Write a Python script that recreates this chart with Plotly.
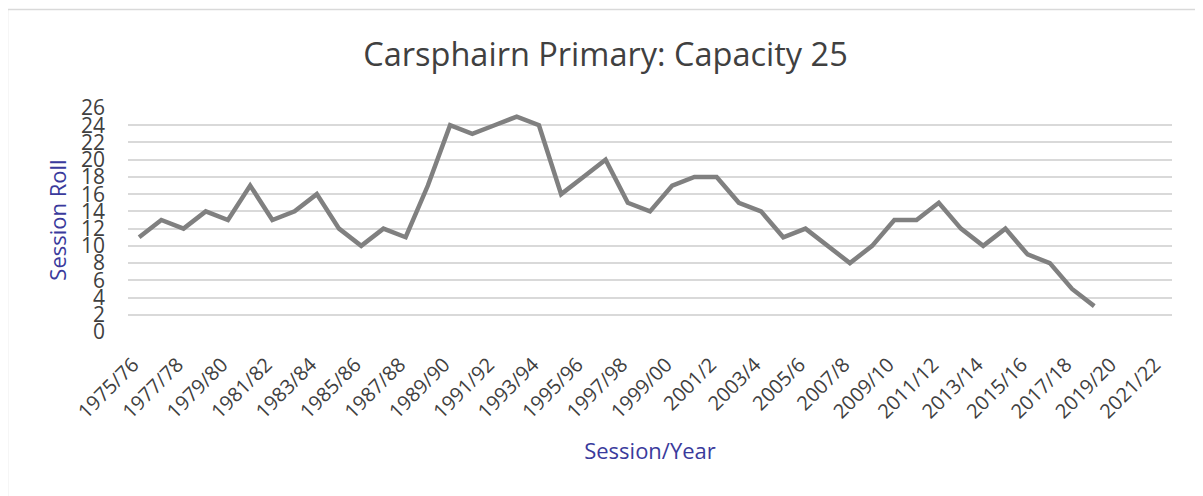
import plotly.graph_objects as go

categories = [
    "1975/76", "1976/77", "1977/78", "1978/79", "1979/80", "1980/81", "1981/82", "1982/83",
    "1983/84", "1984/85", "1985/86", "1986/87", "1987/88", "1988/89", "1989/90", "1990/91",
    "1991/92", "1992/93", "1993/94", "1994/95", "1995/96", "1996/97", "1997/98", "1998/99",
    "1999/00", "2000/1", "2001/2", "2002/3", "2003/4", "2004/5", "2005/6", "2006/7",
    "2007/8", "2008/9", "2009/10", "2010/11", "2011/12", "2012/13", "2013/14", "2014/15",
    "2015/16", "2016/17", "2017/18", "2018/19", "2019/20", "2020/21", "2021/22",
]
roll = [
    11, 13, 12, 14, 13, 17, 13, 14, 16, 12, 10, 12, 11, 17, 24, 23,
    24, 25, 24, 16, 18, 20, 15, 14, 17, 18, 18, 15, 14, 11, 12, 10,
    8, 10, 13, 13, 15, 12, 10, 12, 9, 8, 5, 3,
]
tick_labels = categories[::2]
y_ticks = list(range(0, 27, 2))

FONT = "Open Sans"
TXT = "#404040"
AXIS_TITLE = "#3a3a9c"

fig = go.Figure()
fig.add_trace(go.Scatter(
    x=categories[:len(roll)], y=roll, mode="lines",
    line=dict(color="#808080", width=4.5), hoverinfo="x+y",
))

# page body has an 8px margin; figure sized/positioned to compensate
fig.update_layout(
    width=1195, height=488,
    margin=dict(l=120, r=31, t=100, b=164),
    paper_bgcolor="white", plot_bgcolor="white",
    showlegend=False,
    title=dict(text="Carsphairn Primary: Capacity 25", x=0.5, xanchor="center",
               y=1 - 47 / 488, yanchor="middle",
               font=dict(family=FONT, size=32.5, color=TXT)),
    font=dict(family=FONT, color=TXT),
)
fig.update_xaxes(
    type="category", categoryorder="array", categoryarray=categories,
    range=[-0.5, len(categories) - 0.5],
    tickmode="array", tickvals=tick_labels, ticktext=tick_labels,
    tickangle=-45, tickfont=dict(family=FONT, size=20, color=TXT),
    ticklabelstandoff=16, ticklabelshift=-6,
    showgrid=False, showline=False, zeroline=False, ticks="",
    title=dict(text="Session/Year", font=dict(family=FONT, size=22, color=AXIS_TITLE), standoff=20),
)
fig.update_yaxes(
    range=[0, 26], tickmode="array", tickvals=y_ticks,
    tickfont=dict(family=FONT, size=21, color=TXT),
    showgrid=True, gridcolor="#d9d9d9", gridwidth=1.5,
    zeroline=False, showline=False, ticks="", ticklabelstandoff=22,
    title=dict(text="Session Roll", font=dict(family=FONT, size=22, color=AXIS_TITLE), standoff=8),
)
# chart area border
fig.add_shape(type="rect", xref="paper", yref="paper",
              x0=(7.5 - 128) / 1044, x1=(1215 - 128) / 1044,
              y0=(332 - 510) / 224, y1=(332 - 9.5) / 224,
              line=dict(color="#d9d9d9", width=1.5), fillcolor="rgba(0,0,0,0)", layer="below")

fig.write_html("out.html")
